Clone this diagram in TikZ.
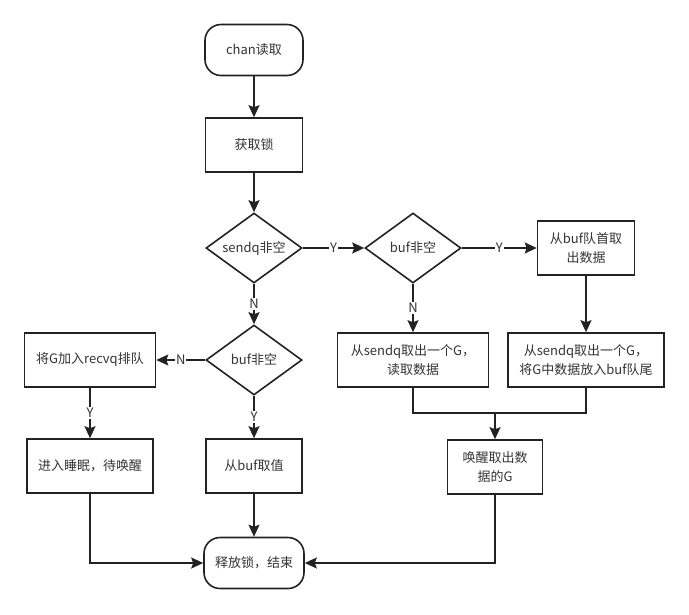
\documentclass[tikz,border=0pt]{standalone}
\usepackage{fontspec}
\setmainfont{Noto Sans CJK SC}
\usetikzlibrary{arrows.meta,shapes.geometric}
\definecolor{linegray}{HTML}{222222}
\definecolor{textgray}{HTML}{333333}
\tikzstyle{label font}=[text=textgray,font=\fontsize{13}{19}\selectfont]
\tikzstyle{box}=[rectangle,draw=linegray,line width=1.6pt,minimum height=54pt,inner sep=2pt,align=center,label font]
\tikzstyle{terminal}=[box,rounded corners=16pt,minimum height=51pt]
\tikzstyle{decision}=[diamond,draw=linegray,line width=1.6pt,minimum width=96pt,minimum height=70pt,aspect=1.4,inner sep=0pt,label font]
\tikzstyle{edge}=[draw=linegray,line width=1.6pt,-{Stealth[length=12pt,width=11pt,inset=2pt]}]
\tikzstyle{line}=[draw=linegray,line width=1.6pt]
\tikzstyle{answer}=[fill=white,inner sep=1pt,label font]

\begin{document}
\begin{tikzpicture}[x=1pt,y=-1pt]
    \useasboundingbox (0,0) rectangle (689,614);
    % Start and end of the read
    \node[terminal,minimum width=98] (start) at (254,50) {chan读取};
    \node[terminal,minimum width=100] (end) at (254,563) {释放锁，结束};

    % Then the process boxes
    \foreach \pos/\name/\w/\txt in {{(254,145)/lock/97/获取锁}, {(586,248)/deq/97/从buf队首取\\出数据},
        {(90,360)/enq/131/将G加入recvq排队}, {(413,360)/takeG/151/从sendq取出一个G，\\读取数据},
        {(586,360)/putbuf/156/从sendq取出一个G，\\将G中数据放入buf队尾}, {(90,466)/sleep/126/进入睡眠，待唤醒},
        {(254,466)/bufget/96/从buf取值}, {(495,467)/wake/95/唤醒取出数\\据的G}}
        \node[box,minimum width=\w] (\name) at \pos {\txt};

    % The decisions
    \foreach \pos/\name/\txt in {{(254,248)/sendq/sendq非空}, {(413,248)/buf/buf非空}, {(254,360)/bufb/buf非空}}
        \node[decision] (\name) at \pos {\txt};

    % Connect with edges and draw answers
    \foreach \source/\dest in {start/lock, lock/sendq, bufget/end, deq/putbuf}
        \path[edge] (\source) -- (\dest);
    \foreach \source/\dest/\answer in {sendq/buf/Y, buf/deq/Y, sendq/bufb/N, bufb/enq/N, enq/sleep/Y, bufb/bufget/Y, buf/takeG/N}
        \path[edge] (\source) -- node[answer] {\answer} (\dest);

    \coordinate (join) at (495,413);
    \path[line] (takeG.south) |- (join) -| (putbuf.south);
    \path[edge] (join) -- (wake);
    \path[edge] (sleep) |- (end);
    \path[edge] (wake) |- (end);
\end{tikzpicture}
\end{document}
